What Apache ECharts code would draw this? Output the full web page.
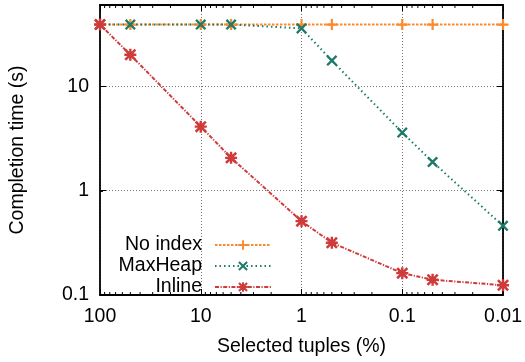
<!DOCTYPE html>
<html>
<head>
<meta charset="utf-8">
<script src="https://cdn.jsdelivr.net/npm/echarts@6/dist/echarts.min.js"></script>
<style>
html,body{margin:0;padding:0;background:#fff;}
#chart{width:525px;height:362px;}
</style>
</head>
<body>
<div id="chart"></div>
<script>
// ---- data ----
var selectedTuples = [100, 50, 10, 5, 1, 0.5, 0.1, 0.05, 0.01];
var seriesNames = ['No index', 'MaxHeap', 'Inline'];
var noIndex = [39, 39, 39, 39, 39, 39, 39, 39, 39];
var maxHeap = [39, 39, 39, 39, 35.8, 17.6, 3.6, 1.88, 0.46];
var inline = [39, 20, 4.1, 2.06, 0.51, 0.317, 0.162, 0.14, 0.124];
var xMinorTicks = [90, 80, 70, 60, 50, 40, 30, 20, 9, 8, 7, 6, 5, 4, 3, 2, 0.9, 0.8, 0.7, 0.6, 0.5, 0.4, 0.3, 0.2, 0.09, 0.08, 0.07, 0.06, 0.05, 0.04, 0.03, 0.02];
var yMinorTicks = [0.2, 0.3, 0.4, 0.5, 0.6, 0.7, 0.8, 0.9, 2, 3, 4, 5, 6, 7, 8, 9, 20, 30, 40, 50];

var COLORS = ['#f98a2e', '#1e7a68', '#cf3a3a'];
var FONT = 'Liberation Sans';
var FS = 19.5;

var PLUS = 'path://M8,0H12V8H20V12H12V20H8V12H0V8H8Z';
var d = 3.0;
var CROSS = 'path://M0,' + d + 'L' + d + ',0L10,' + (10 - d) + 'L' + (20 - d) + ',0L20,' + d + 'L' + (10 + d) + ',10L20,' + (20 - d) + 'L' + (20 - d) + ',20L10,' + (10 + d) + 'L' + d + ',20L0,' + (20 - d) + 'L' + (10 - d) + ',10Z';
var ASTER = CROSS + PLUS.replace('path://', '');

function pairs(xs, ys) { return xs.map(function (x, i) { return [x, ys[i]]; }); }
function fmt(v) {
  var l = Math.log10(v);
  if (Math.abs(l - Math.round(l)) > 1e-6) return '';
  return String(+Number(v).toPrecision(3));
}

var chart = echarts.init(document.getElementById('chart'), null, {renderer: 'canvas'});

var axisCommonX = {
  type: 'log', logBase: 10, min: 0.01, max: 100, inverse: true,
  axisLine: {show: true, lineStyle: {color: '#000', width: 1.8}},
  axisTick: {show: true, inside: true, length: 6, lineStyle: {color: '#000', width: 1}},
  minorTick: {show: false}
};
var axisCommonY = {
  type: 'log', logBase: 10, min: 0.1, max: 60,
  axisLine: {show: true, lineStyle: {color: '#000', width: 1.8}},
  axisTick: {show: true, inside: true, length: 6, lineStyle: {color: '#000', width: 1}},
  minorTick: {show: false}
};

function minorRender(isX) {
  return function (params, api) {
    var cs = params.coordSys;
    var v = api.value(0);
    var L = 3;
    if (isX) {
      var p = api.coord([v, 1]);
      return {type: 'group', children: [
        {type: 'line', shape: {x1: p[0], y1: cs.y + cs.height, x2: p[0], y2: cs.y + cs.height - L}, style: {stroke: '#000', lineWidth: 1}},
        {type: 'line', shape: {x1: p[0], y1: cs.y, x2: p[0], y2: cs.y + L}, style: {stroke: '#000', lineWidth: 1}}
      ]};
    } else {
      var q = api.coord([1, v]);
      return {type: 'group', children: [
        {type: 'line', shape: {x1: cs.x, y1: q[1], x2: cs.x + L, y2: q[1]}, style: {stroke: '#000', lineWidth: 1}},
        {type: 'line', shape: {x1: cs.x + cs.width, y1: q[1], x2: cs.x + cs.width - L, y2: q[1]}, style: {stroke: '#000', lineWidth: 1}}
      ]};
    }
  };
}

var option = {
  animation: false,
  backgroundColor: '#fff',
  grid: {left: 98, right: 20, top: 5, bottom: 63, containLabel: false},
  legend: {
    data: seriesNames,
    orient: 'vertical', align: 'right',
    right: 253, top: 235,
    padding: 0, itemGap: 1,
    itemWidth: 56, itemHeight: 12,
    textStyle: {fontFamily: FONT, fontSize: FS, color: '#000', padding: [0, 8, 0, 0]},
    selectedMode: false
  },
  xAxis: [
    Object.assign({}, axisCommonX, {
      position: 'bottom',
      name: 'Selected tuples (%)', nameLocation: 'middle', nameGap: 42,
      nameTextStyle: {fontFamily: FONT, fontSize: FS, color: '#000'},
      axisLabel: {fontFamily: FONT, fontSize: FS, color: '#000', margin: 12, formatter: fmt},
      splitLine: {show: true, lineStyle: {color: '#777', type: [1, 2], width: 1}}
    }),
    Object.assign({}, axisCommonX, {
      position: 'top', axisLabel: {show: false}, splitLine: {show: false}
    })
  ],
  yAxis: [
    Object.assign({}, axisCommonY, {
      position: 'left',
      name: 'Completion time (s)', nameLocation: 'middle', nameGap: 72,
      nameTextStyle: {fontFamily: FONT, fontSize: FS, color: '#000'},
      axisLabel: {fontFamily: FONT, fontSize: FS, color: '#000', margin: 11, formatter: fmt},
      splitLine: {show: true, lineStyle: {color: '#777', type: [1, 2], width: 1}}
    }),
    Object.assign({}, axisCommonY, {
      position: 'right', axisLabel: {show: false}, splitLine: {show: false}
    })
  ],
  series: [
    {
      name: seriesNames[0], type: 'line', data: pairs(selectedTuples, noIndex),
      symbol: PLUS, symbolSize: 11, showAllSymbol: true, clip: false,
      lineStyle: {color: COLORS[0], width: 2, type: [2.5, 1.5]},
      itemStyle: {color: COLORS[0], borderWidth: 0}
    },
    {
      name: seriesNames[1], type: 'line', data: pairs(selectedTuples, maxHeap),
      symbol: CROSS, symbolSize: 11, showAllSymbol: true, clip: false,
      lineStyle: {color: COLORS[1], width: 2, type: [1.5, 3]},
      itemStyle: {color: COLORS[1], borderWidth: 0}
    },
    {
      name: seriesNames[2], type: 'line', data: pairs(selectedTuples, inline),
      symbol: ASTER, symbolSize: 12, showAllSymbol: true, clip: false,
      lineStyle: {color: COLORS[2], width: 2, type: [4, 1.5, 1.2, 1.5]},
      itemStyle: {color: COLORS[2], borderWidth: 0}
    },
    {
      type: 'custom', name: 'xminor', silent: true, clip: false,
      data: xMinorTicks.map(function (v) { return [v, 1]; }),
      renderItem: minorRender(true), z: 5
    },
    {
      type: 'custom', name: 'yminor', silent: true, clip: false,
      data: yMinorTicks.map(function (v) { return [1, v]; }),
      renderItem: minorRender(false), z: 5
    }
  ]
};
chart.setOption(option);
</script>
</body>
</html>
